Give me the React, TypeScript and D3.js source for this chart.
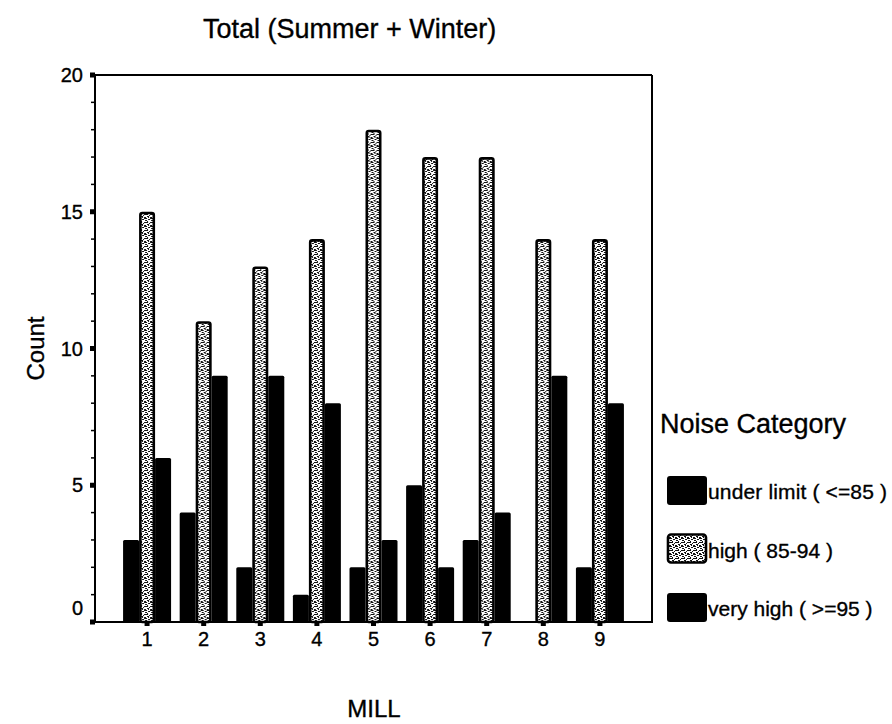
import React from "react";
import * as d3 from "d3";

const mills = ["1", "2", "3", "4", "5", "6", "7", "8", "9"];
const seriesNames = ["under limit ( <=85 )", "high ( 85-94 )", "very high ( >=95 )"];
const underLimit = [3, 4, 2, 1, 2, 5, 3, 0, 2];
const high = [15, 11, 13, 14, 18, 17, 17, 14, 14];
const veryHigh = [6, 9, 9, 8, 3, 2, 4, 9, 8];
const yTicks = [0, 5, 10, 15, 20];
const yMinorTicks = d3.range(0, 21);

const W = 892;
const H = 724;
const FONT = "'Liberation Sans', Arial, sans-serif";

export default function App() {
  const left = 95, right = 652, top = 75, bottom = 622;
  const y = d3.scaleLinear().domain([0, 20]).range([bottom, top]);
  const x = d3.scalePoint<string>().domain(mills).range([left, right]).padding(0.92);
  const sub = d3.scaleBand<number>().domain([0, 1, 2]).range([-24, 24]).padding(0);
  const series = [underLimit, high, veryHigh];

  const speckles = [
    [0, 0, 2, 1], [3, 1, 2, 2], [1, 3, 2, 1], [4, 4, 2, 1], [0, 5, 1, 2], [3, 6, 2, 1], [5, 2, 1, 1], [2, 7, 1, 1],
    [1, 1, 1, 1], [5, 6, 1, 1],
  ];
  const txt = { fontFamily: FONT, fill: "#000", stroke: "#000", strokeWidth: 0.35 };

  return (
    <svg width={W} height={H} style={{ position: "absolute", left: 0, top: 0, background: "#fff" }}>
      <defs>
        <pattern id="speckle" width={6} height={8} patternUnits="userSpaceOnUse">
          <rect width={6} height={8} fill="#fff" />
          {speckles.map((s, i) => (
            <rect key={i} x={s[0]} y={s[1]} width={s[2]} height={s[3]} fill="#111" />
          ))}
        </pattern>
      </defs>
      <rect width={W} height={H} fill="#fff" />

      {/* title */}
      <text x={203} y={38} fontSize={27} {...txt}>Total (Summer + Winter)</text>

      {/* bars */}
      {mills.map((m, i) => (
        <g key={m} transform={`translate(${x(m)},0)`}>
          {series.map((vals, s) => {
            const v = vals[i];
            if (v <= 0) return null;
            const bx = sub(s)!;
            const bw = sub.bandwidth();
            if (s === 1) {
              return (
                <rect key={s} x={bx + 1.3} y={y(v) + 1.3} width={bw - 2.6} height={bottom - y(v) - 1.3}
                  rx={2} fill="url(#speckle)" stroke="#000" strokeWidth={2.6} />
              );
            }
            return <rect key={s} x={bx} y={y(v)} width={bw} height={bottom - y(v)} rx={1.5} fill="#000" />;
          })}
        </g>
      ))}

      {/* frame */}
      <line x1={left} x2={right} y1={top} y2={top} stroke="#000" strokeWidth={2} />
      <line x1={right} x2={right} y1={top} y2={bottom} stroke="#000" strokeWidth={2} />
      <line x1={left} x2={left} y1={top} y2={bottom + 1} stroke="#000" strokeWidth={2} />
      <line x1={left - 1} x2={right + 1} y1={bottom} y2={bottom} stroke="#000" strokeWidth={2} />

      {/* y ticks */}
      {yMinorTicks.map((t) => (
        <line key={t} x1={left - 4} x2={left} y1={y(t)} y2={y(t)} stroke="#000" strokeWidth={1.5} />
      ))}
      {yTicks.map((t) => (
        <g key={t}>
          <rect x={left - 5} y={y(t) - 2.5} width={5} height={5} fill="#000" />
          <text x={83} y={t === 0 ? y(t) - 14 : y(t)} dy="0.35em" textAnchor="end" fontSize={20} {...txt}>{t}</text>
        </g>
      ))}

      {/* x ticks */}
      {mills.map((m) => (
        <g key={m}>
          <rect x={x(m)! - 2.5} y={bottom} width={5} height={4} fill="#000" />
          <text x={x(m)} y={646} textAnchor="middle" fontSize={20} {...txt}>{m}</text>
        </g>
      ))}

      {/* axis labels */}
      <text transform={`translate(44,${(top + bottom) / 2}) rotate(-90)`} textAnchor="middle" fontSize={24} {...txt}>Count</text>
      <text x={374} y={717} textAnchor="middle" fontSize={24} {...txt}>MILL</text>

      {/* legend */}
      <text x={660} y={433} fontSize={27} {...txt}>Noise Category</text>
      {seriesNames.map((name, s) => {
        const cy = 490 + s * 58.5;
        return (
          <g key={name}>
            {s === 1 ? (
              <rect x={668} y={cy - 14} width={38} height={28} rx={3} fill="url(#speckle)" stroke="#000" strokeWidth={2.6} />
            ) : (
              <rect x={667} y={cy - 14} width={40} height={29} rx={3} fill="#000" />
            )}
            <text x={708} y={cy + 9} fontSize={21} {...txt} textLength={s === 0 ? 179 : undefined}>{name}</text>
          </g>
        );
      })}
    </svg>
  );
}
